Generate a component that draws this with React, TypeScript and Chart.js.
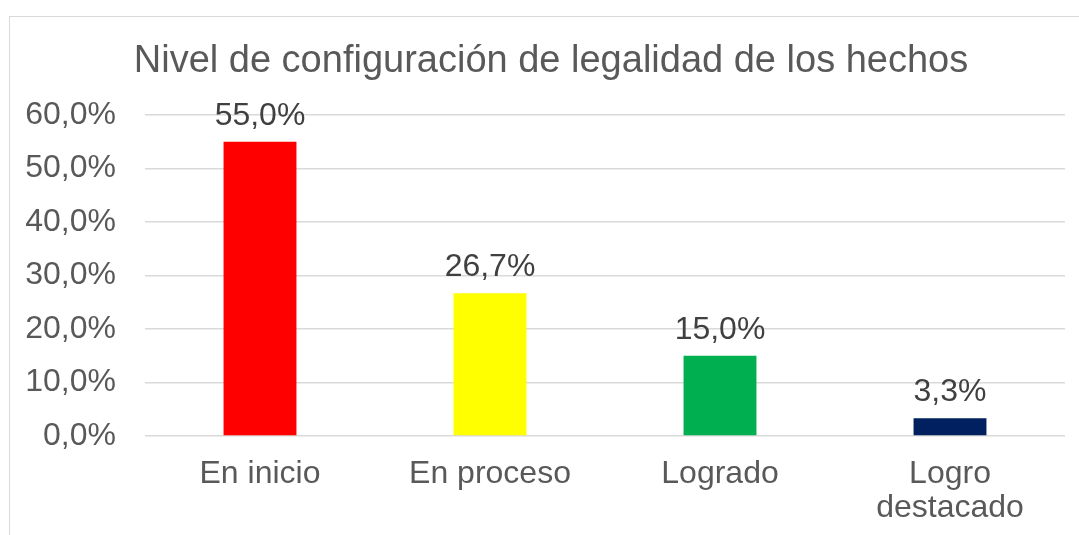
import React, { useEffect, useRef } from "react";
import { Chart, registerables } from "chart.js";

Chart.register(...registerables);

const titleText = "Nivel de configuración de legalidad de los hechos";
const categories: (string | string[])[] = ["En inicio", "En proceso", "Logrado", ["Logro", "destacado"]];
const values = [55.0, 26.7, 15.0, 3.3];
const barColors = ["#FF0000", "#FFFF00", "#00B050", "#002060"];
const yMin = 0;
const yMax = 60;
const yStep = 10;

const FONT = "'Liberation Sans', Arial, sans-serif";
const fmt = (v: number) => v.toFixed(1).replace(".", ",") + "%";

const dataLabelPlugin = {
  id: "dataLabels",
  afterDatasetsDraw(chart: any) {
    const ctx = chart.ctx;
    const meta = chart.getDatasetMeta(0);
    ctx.save();
    ctx.font = `32px ${FONT}`;
    ctx.fillStyle = "#404040";
    ctx.textAlign = "center";
    ctx.textBaseline = "alphabetic";
    meta.data.forEach((el: any, i: number) => {
      ctx.fillText(fmt(values[i]), el.x, el.y - 17);
    });
    ctx.restore();
  },
};

const titlePlugin = {
  id: "customTitle",
  afterDraw(chart: any) {
    const ctx = chart.ctx;
    ctx.save();
    ctx.font = `38px ${FONT}`;
    ctx.fillStyle = "#595959";
    ctx.textAlign = "center";
    ctx.textBaseline = "alphabetic";
    ctx.fillText(titleText, 551, 72);
    ctx.restore();
  },
};

export default function App() {
  const ref = useRef<HTMLCanvasElement>(null);
  useEffect(() => {
    if (!ref.current) return;
    const chart = new Chart(ref.current, {
      type: "bar",
      data: {
        labels: categories,
        datasets: [
          {
            data: values,
            backgroundColor: barColors,
            borderWidth: 0,
            barPercentage: 0.317,
            categoryPercentage: 1,
          },
        ],
      },
      options: {
        responsive: false,
        animation: false,
        layout: { padding: { left: 9, right: 14, top: 115, bottom: 0 } },
        plugins: {
          legend: { display: false },
          tooltip: { enabled: false },
          title: { display: false },
        },
        scales: {
          x: {
            grid: { display: false, drawTicks: false },
            border: { display: false },
            ticks: {
              color: "#595959",
              font: { family: FONT, size: 32, lineHeight: 1.07 },
              padiding: 0,
              padding: 21,
              maxRotation: 0,
              autoSkip: false,
            },
            afterFit: (scale: any) => {
              scale.height = 99;
            },
          },
          y: {
            min: yMin,
            max: yMax,
            grid: { color: "#d9d9d9", lineWidth: 1.5, drawTicks: false },
            border: { display: false },
            ticks: {
              stepSize: yStep,
              color: "#595959",
              font: { family: FONT, size: 32 },
              padding: 29,
              callback: (v: any) => fmt(Number(v)),
            },
            afterFit: (scale: any) => {
              scale.width = 136;
            },
          },
        },
      },
      plugins: [dataLabelPlugin, titlePlugin],
    });
    return () => chart.destroy();
  }, []);

  return (
    <div style={{ position: "absolute", left: 0, top: 0, width: 1079, height: 535, overflow: "hidden", background: "#fff" }}>
      <div style={{ position: "absolute", left: 9, top: 16, width: 1100, height: 600, border: "1px solid #d9d9d9", boxSizing: "border-box" }} />
      <canvas ref={ref} width={1079} height={535} style={{ position: "absolute", left: 0, top: 0, width: 1079, height: 535 }} />
    </div>
  );
}
